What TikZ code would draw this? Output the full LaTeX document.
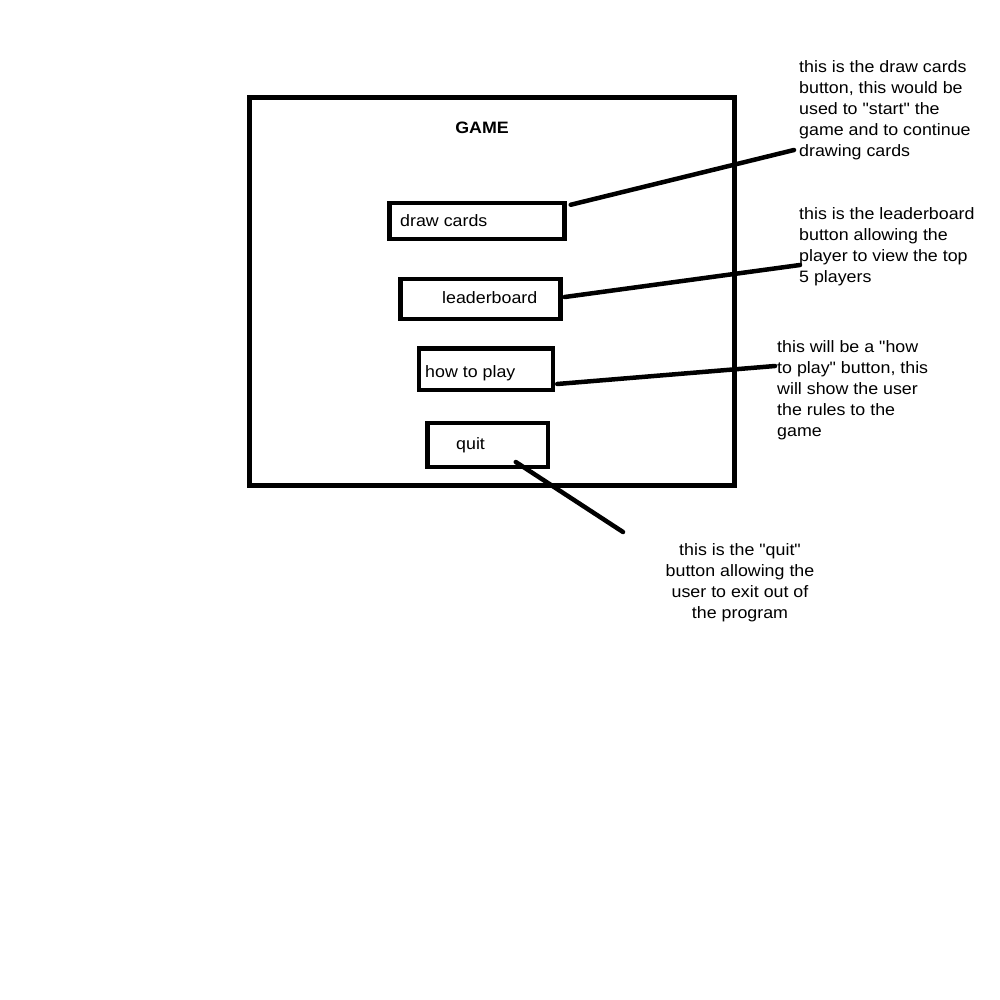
\documentclass[tikz,border=0pt]{standalone}
\usepackage{fontspec}
\setmainfont{Liberation Sans}[Ligatures=TeXOff, FakeStretch=1.08]
\begin{document}
\begin{tikzpicture}[x=1pt,y=-1pt,
  frame/.style={draw, line width=5pt, rectangle, inner sep=0pt, outer sep=0pt},
  btn/.style={draw, line width=4.5pt, rectangle, inner sep=0pt},
  lbl/.style={inner sep=0pt, font=\fontsize{16.5}{21}\selectfont},
  note/.style={lbl, align=left, anchor=north west},
  conn/.style={line width=4.5pt, line cap=round}]
\useasboundingbox[fill=white] (0,0) rectangle (1000,1000);
% outer frame
\node[frame, minimum width=484.5pt, minimum height=387.5pt, anchor=north west] (game) at (249.5,97.5) {};
\node[lbl, font=\fontsize{16.5}{21}\selectfont\bfseries, anchor=base] (title) at (482,134) {GAME};
% buttons
\node[btn, minimum width=175pt, minimum height=36pt] (dc) at (477,221) {};
\node[btn, minimum width=160pt, minimum height=40pt] (lb) at (480.5,299) {};
\node[btn, minimum width=134pt, minimum height=41.5pt] (hp) at (486,369) {};
\node[btn, minimum width=120.5pt, minimum height=44pt] (qt) at (487.75,445) {};
\node[lbl, anchor=base west] (dct) at (400,226) {draw cards};
\node[lbl, anchor=base west] (lbt) at (442,303) {leaderboard};
\node[lbl, anchor=base west] (hpt) at (425,377) {how to play};
\node[lbl, anchor=base west] (qtt) at (456,449) {quit};
% notes
\node[note] (n1) at (799,60) {this is the draw cards\\button, this would be\\used to "start" the\\game and to continue\\drawing cards};
\node[note] (n2) at (799,207.5) {this is the leaderboard\\button allowing the\\player to view the top\\5 players};
\node[note] (n3) at (777,340) {this will be a "how\\to play" button, this\\will show the user\\the rules to the\\game};
\node[lbl, align=center, anchor=north] (n4) at (740,543) {this is the "quit"\\button allowing the\\user to exit out of\\the program};
% connector ends
\coordinate (e1) at (794,150);
\coordinate (e2) at (800,265);
\coordinate (e3) at (775,366);
\coordinate (e4) at (623,532);
\draw[conn] ([xshift=4pt,yshift=-4pt]dc.north east) -- (e1);
\draw[conn] ([xshift=2pt,yshift=2pt]lb.east) -- (e2);
\draw[conn] ([xshift=2pt,yshift=8pt]hp.south east) -- (e3);
\draw[conn] ([xshift=28pt,yshift=-17pt]qt.center) -- (e4);
\end{tikzpicture}
\end{document}
